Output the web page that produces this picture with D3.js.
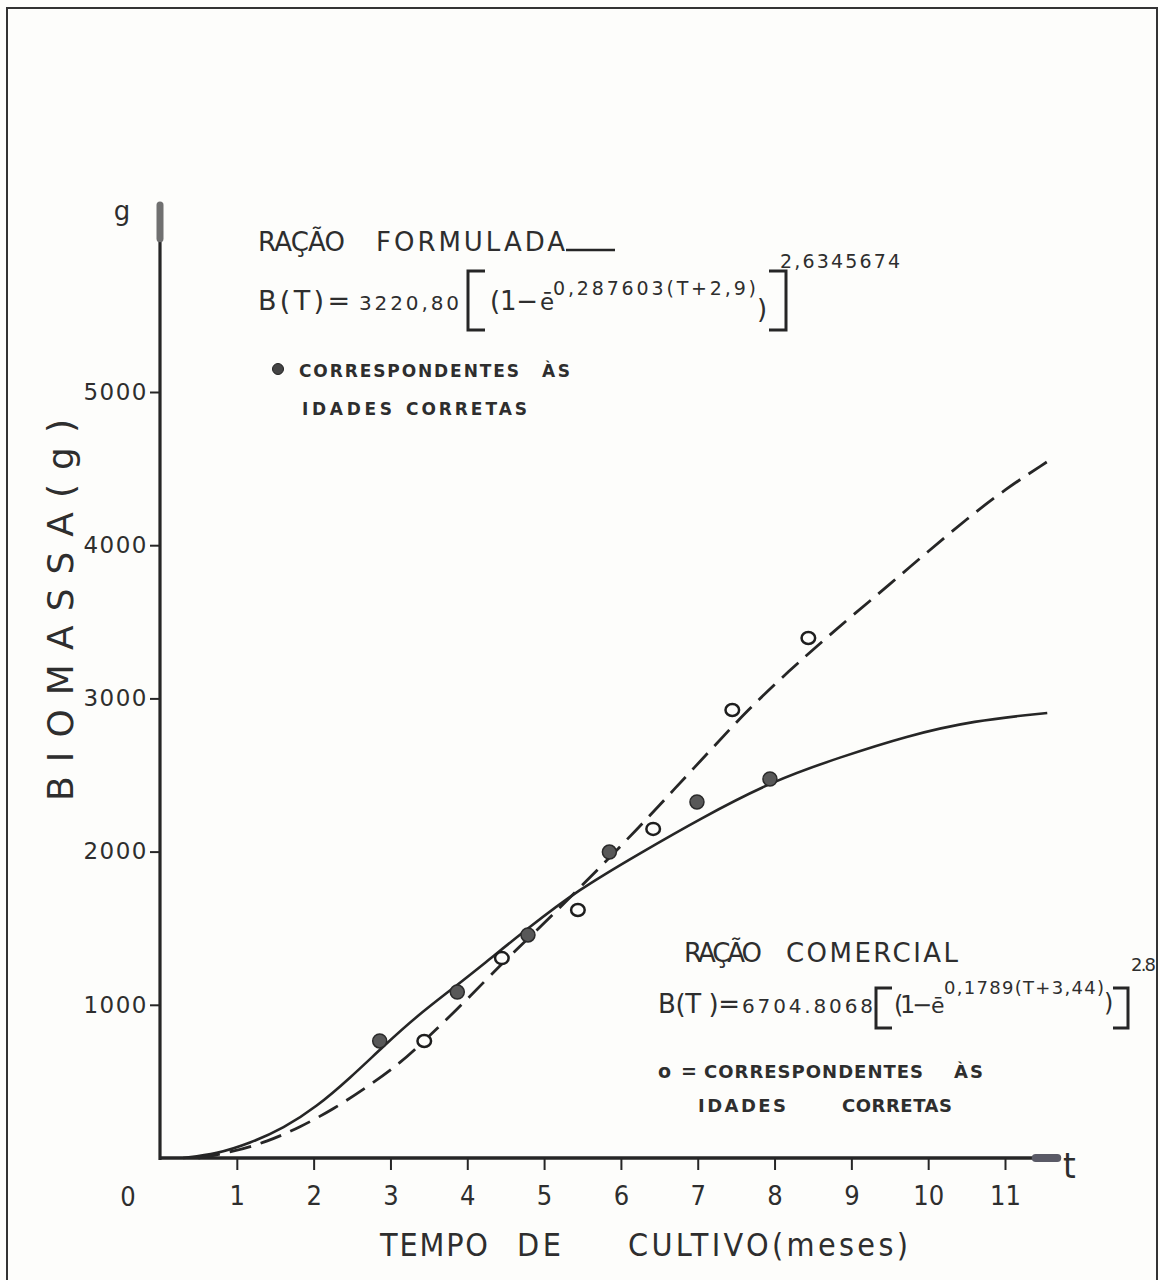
<!DOCTYPE html>
<html>
<head>
<meta charset="utf-8">
<script src="https://cdn.jsdelivr.net/npm/d3@7"></script>
<style>
  html, body { margin: 0; padding: 0; background: #fdfdfb; }
  svg { display: block; }
  text { fill: #2e2e2e; font-family: 'DejaVu Sans', sans-serif; }
  .narrow { font-family: 'Liberation Sans Narrow', 'DejaVu Sans Condensed', 'DejaVu Sans', sans-serif; font-stretch: condensed; }
  .bold { font-weight: bold; }
</style>
</head>
<body>
<svg id="chart" width="1160" height="1280"></svg>
<script>
// Axis ticks
const monthTicks = [1, 2, 3, 4, 5, 6, 7, 8, 9, 10, 11];
const biomassTicks = [1000, 2000, 3000, 4000, 5000];

// Fitted growth curve, formulated feed (solid line)
const formuladaCurveT = [0.30, 0.74, 1.17, 1.61, 2.04, 2.47, 2.91, 3.34, 3.82, 4.21, 4.79, 5.44, 6.25, 7.03, 7.99, 8.85, 9.72, 10.59, 11.55];
const formuladaCurveB = [0, 26, 96, 194, 335, 520, 730, 925, 1110, 1265, 1500, 1750, 1990, 2215, 2465, 2615, 2755, 2855, 2905];

// Fitted growth curve, commercial feed (dashed line)
const comercialCurveT = [0.50, 0.95, 1.39, 1.82, 2.26, 2.69, 3.13, 3.44, 3.99, 4.45, 4.79, 5.44, 6.25, 6.68, 7.20, 7.64, 8.20, 8.64, 9.00, 9.50, 10.00, 10.50, 11.00, 11.55];
const comercialCurveB = [0, 40, 105, 200, 320, 460, 620, 764, 1030, 1270, 1430, 1750, 2165, 2400, 2680, 2920, 3185, 3380, 3535, 3745, 3960, 4170, 4365, 4545];

// Observed biomass at the correct ages
const formuladaObsT = [2.86, 3.87, 4.79, 5.85, 6.99, 7.94];
const formuladaObsB = [764, 1083, 1456, 1997, 2324, 2474];
const comercialObsT = [3.44, 4.45, 5.44, 6.42, 7.45, 8.44];
const comercialObsB = [764, 1305, 1619, 2148, 2924, 3394];

const svg = d3.select('#chart');
const ink = '#262626';

svg.append('rect').attr('width', 1160).attr('height', 1280).attr('fill', '#fdfdfb');

// page frame
svg.append('path')
  .attr('d', 'M7,1280 V8 H1157 V1280')
  .attr('fill', 'none').attr('stroke', '#333').attr('stroke-width', 2);

const x = d3.scaleLinear().domain([0, 11]).range([160, 1005]);
const y = d3.scaleLinear().domain([0, 5000]).range([1158, 392]);

// axis lines, running past the last tick
const axes = svg.append('g');
axes.append('line')
  .attr('x1', x(0)).attr('x2', x(0)).attr('y1', y(0) + 2).attr('y2', y(6230))
  .attr('stroke', ink).attr('stroke-width', 3.2);
axes.append('line')
  .attr('x1', x(0)).attr('x2', x(11.45)).attr('y1', y(0)).attr('y2', y(0))
  .attr('stroke', ink).attr('stroke-width', 3.5);
// thickened ends of both axes
axes.append('line')
  .attr('x1', x(0)).attr('x2', x(0)).attr('y1', y(6220)).attr('y2', y(6000))
  .attr('stroke', '#707070').attr('stroke-width', 7).attr('stroke-linecap', 'round');
axes.append('line')
  .attr('x1', x(11.4)).attr('x2', x(11.68)).attr('y1', y(0)).attr('y2', y(0))
  .attr('stroke', '#5a5a66').attr('stroke-width', 8).attr('stroke-linecap', 'round');

// x axis ticks and labels
const xAxis = svg.append('g')
  .attr('transform', `translate(0,${y(0)})`)
  .call(d3.axisBottom(x).tickValues(monthTicks).tickSize(12).tickPadding(16).tickFormat(d3.format('d')));
xAxis.select('.domain').remove();
xAxis.selectAll('line').attr('stroke', ink).attr('stroke-width', 2);
xAxis.selectAll('text').attr('class', 'narrow').attr('font-size', 27).attr('fill', '#2e2e2e');
svg.append('text').attr('class', 'narrow')
  .attr('x', x(0) - 32).attr('y', 1206).attr('text-anchor', 'middle')
  .attr('font-size', 27).text('0');

// y axis ticks and labels
const yAxis = svg.append('g')
  .attr('transform', `translate(${x(0)},0)`)
  .call(d3.axisLeft(y).tickValues(biomassTicks).tickSize(10).tickPadding(2).tickFormat(d3.format('d')));
yAxis.select('.domain').remove();
yAxis.selectAll('line').attr('stroke', ink).attr('stroke-width', 2);
yAxis.selectAll('text').attr('font-size', 23).attr('letter-spacing', 1.5).attr('fill', '#2e2e2e')
  .attr('font-family', "'DejaVu Sans', sans-serif");

// axis captions
svg.append('text').attr('x', 122).attr('y', 220).attr('text-anchor', 'middle').attr('font-size', 26).text('g');
svg.append('text').attr('class', 'narrow').attr('x', 1063).attr('y', 1178).attr('font-size', 36).text('t');

svg.append('text')
  .attr('transform', 'translate(73,610) rotate(-90)')
  .attr('text-anchor', 'middle').attr('font-size', 36)
  .attr('textLength', 382).attr('lengthAdjust', 'spacing')
  .text('BIOMASSA(g)');

function label(str, px, py, size, len, cls) {
  const t = svg.append('text').attr('x', px).attr('y', py).attr('font-size', size).text(str);
  if (len) t.attr('textLength', len).attr('lengthAdjust', 'spacing');
  if (cls) t.attr('class', cls);
  return t;
}

label('TEMPO', 380, 1256, 32, 108, 'narrow');
label('DE', 517, 1256, 32, 44, 'narrow');
label('CULTIVO(meses)', 628, 1256, 32, 280, 'narrow');

// fitted curves, smoothed through the read-off points
const line = d3.line().x(d => x(d[0])).y(d => y(d[1])).curve(d3.curveBasis);
const formuladaCurve = formuladaCurveT.map((t, i) => [t, formuladaCurveB[i]]);
const comercialCurve = comercialCurveT.map((t, i) => [t, comercialCurveB[i]]);

svg.append('path').datum(formuladaCurve).attr('d', line)
  .attr('fill', 'none').attr('stroke', ink).attr('stroke-width', 2.6);
svg.append('path').datum(comercialCurve).attr('d', line)
  .attr('fill', 'none').attr('stroke', ink).attr('stroke-width', 2.8)
  .attr('stroke-dasharray', '22 10');

// observations
svg.append('g').selectAll('circle')
  .data(formuladaObsT.map((t, i) => [t, formuladaObsB[i]]))
  .join('circle')
  .attr('cx', d => x(d[0])).attr('cy', d => y(d[1])).attr('r', 7)
  .attr('fill', '#585858').attr('stroke', '#2a2a2a').attr('stroke-width', 1.5);
svg.append('g').selectAll('ellipse')
  .data(comercialObsT.map((t, i) => [t, comercialObsB[i]]))
  .join('ellipse')
  .attr('cx', d => x(d[0])).attr('cy', d => y(d[1])).attr('rx', 6.8).attr('ry', 6)
  .attr('fill', '#fdfdfb').attr('stroke', '#1e1e1e').attr('stroke-width', 2.5);

// ---- formulated feed legend and equation ----
label('RAÇÃO', 258, 251, 26, 87);
label('FORMULADA', 376, 251, 26, 189);
svg.append('line').attr('x1', 566).attr('x2', 615).attr('y1', 250).attr('y2', 250)
  .attr('stroke', ink).attr('stroke-width', 2.5);

label('B(T)=', 258, 310, 27, 92);
label('3220,80', 359, 310, 20, 100);
svg.append('path').attr('d', 'M485,271 H468 V330 H485')
  .attr('fill', 'none').attr('stroke', ink).attr('stroke-width', 3);
label('(1−', 490, 310, 26, 48);
label('ē', 540, 310, 23);
label('0,287603(T+2,9)', 553, 295, 19, 203);
label(')', 757, 318, 26);
svg.append('path').attr('d', 'M769,271 H786 V330 H769')
  .attr('fill', 'none').attr('stroke', ink).attr('stroke-width', 3);
label('2,6345674', 780, 268, 19, 120);

svg.append('circle').attr('cx', 278).attr('cy', 369).attr('r', 5.5)
  .attr('fill', '#444').attr('stroke', '#222').attr('stroke-width', 1);
label('CORRESPONDENTES', 299, 377, 17, 220, 'bold');
label('ÀS', 542, 377, 17, 28, 'bold');
label('IDADES', 302, 415, 17, 90, 'bold');
label('CORRETAS', 406, 415, 17, 121, 'bold');

// ---- commercial feed legend and equation ----
label('RAÇÃO', 684, 962, 26, 78);
label('COMERCIAL', 786, 962, 26, 172);

label('B(T )=', 658, 1013, 26, 82);
label('6704.8068', 742, 1013, 20, 131);
svg.append('path').attr('d', 'M892,988 H876 V1028 H892')
  .attr('fill', 'none').attr('stroke', ink).attr('stroke-width', 3);
label('(1−', 894, 1013, 24, 38);
label('ē', 931, 1013, 22);
label('0,1789(T+3,44)', 944, 994, 18, 160);
label(')', 1104, 1011, 24);
svg.append('path').attr('d', 'M1113,988 H1128 V1028 H1113')
  .attr('fill', 'none').attr('stroke', ink).attr('stroke-width', 3);
label('2.8', 1131, 971, 18, 25);

label('o=', 658, 1078, 19, 39, 'bold');
label('CORRESPONDENTES', 704, 1078, 18, 219, 'bold');
label('ÀS', 954, 1078, 18, 29, 'bold');
label('IDADES', 698, 1112, 18, 88, 'bold');
label('CORRETAS', 842, 1112, 18, 110, 'bold');
</script>
</body>
</html>
